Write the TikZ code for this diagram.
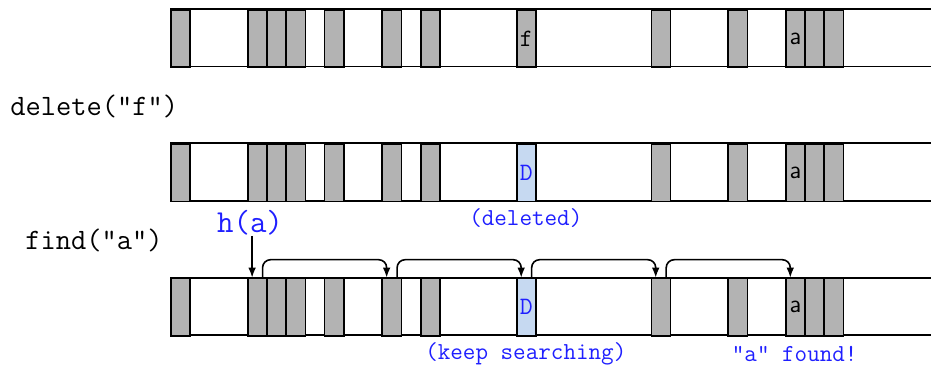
\documentclass[tikz,border=0pt]{standalone}
\usepackage{fontspec}
\usetikzlibrary{arrows.meta,calc}
\definecolor{cellgray}{HTML}{B3B3B3}
\definecolor{delblue}{HTML}{C6D9F1}
\definecolor{lblblue}{HTML}{1F1FFF}
\begin{document}
\begin{tikzpicture}[x=0.5pt,y=-0.5pt,
  frame/.style={draw=black,line width=0.85pt},
  slot/.style={draw=black,line width=0.85pt,fill=cellgray,minimum width=9.61pt,minimum height=28.75pt,inner sep=0pt,anchor=north west,font=\fontsize{12.5}{12.5}\selectfont\ttfamily},
  delslot/.style={slot,fill=delblue,text=lblblue},
  aslot/.style={slot,font=\fontsize{12.5}{12.5}\selectfont\sffamily},
  oplabel/.style={inner sep=0pt,anchor=west,font=\fontsize{14.8}{16}\selectfont\ttfamily},
  note/.style={inner sep=0pt,text=lblblue,font=\fontsize{12.2}{13}\selectfont\ttfamily},
  hlabel/.style={inner sep=0pt,text=lblblue,font=\fontsize{16}{17}\selectfont\ttfamily},
  arr/.style={draw=black,line width=0.8pt,-{Latex[length=5pt,width=3.8pt]}}]
\useasboundingbox (0,0) rectangle (931,367);
% rows
\foreach \r/\t in {1/9,2/143.3,3/277.7}{
  \draw[frame] (170,\t) -- (931,\t);
  \draw[frame] (170,\t+57.5) -- (931,\t+57.5);
  \foreach \i in {0,4,5,6,8,11,13,25,29,33,34}
    \node[slot] (r\r-\i) at ({170+19.22*\i},\t) {};
}
% special cells
\node[slot] (r1-18) at ({170+19.22*18},9) {f};
\node[aslot] (r1-32) at ({170+19.22*32},9) {a};
\node[delslot] (r2-18) at ({170+19.22*18},143.3) {D};
\node[aslot] (r2-32) at ({170+19.22*32},143.3) {a};
\node[delslot] (r3-18) at ({170+19.22*18},277.7) {D};
\node[aslot] (r3-32) at ({170+19.22*32},277.7) {a};
% labels
\node[oplabel] (del) at (10,106) {delete("f")};
\node[oplabel] (find) at (25,240) {find("a")};
\node[hlabel] (ha) at (250,223) {h(a)};
\node[note] (deleted) at (525.8,218) {(deleted)};
\node[note] (keep) at (525.8,354) {(keep searching)};
\node[note] (found) at (794.7,354) {"a" found!};
% probing arrows
\coordinate (h0) at ($(r3-4.north west)!0.25!(r3-4.north east)$);
\draw[arr] (ha.south -| h0) -- (h0);
\foreach \a/\b in {4/11,11/18,18/25,25/32}
  \draw[arr,rounded corners=4pt] ($(r3-\a.north west)!0.75!(r3-\a.north east)$) -- ++(0,-18) -| ($(r3-\b.north west)!0.25!(r3-\b.north east)$);
\end{tikzpicture}
\end{document}
